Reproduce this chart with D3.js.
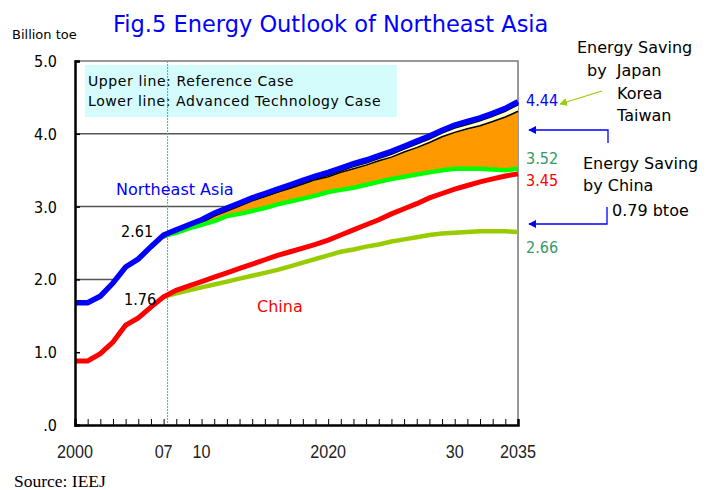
<!DOCTYPE html>
<meta charset="utf-8">
<script src="https://d3js.org/d3.v7.min.js"></script>
<style>
body { margin: 0; background: #fff; }
text { font-family: "DejaVu Sans Condensed", "DejaVu Sans", sans-serif; font-stretch: condensed; }
text.wide { font-family: "DejaVu Sans", sans-serif; font-stretch: normal; }
.xlab { font-family: "Liberation Sans", Arial, sans-serif; font-stretch: normal; }
.src { font-family: "Liberation Serif", "Times New Roman", serif; font-stretch: normal; }
</style>
<body>
<script>

// years
var histYears = [2000, 2001, 2002, 2003, 2004, 2005, 2006, 2007];
var projYears = [2007, 2008, 2009, 2010, 2011, 2012, 2013, 2014, 2015, 2016,
                 2017, 2018, 2019, 2020, 2021, 2022, 2023, 2024, 2025, 2026,
                 2027, 2028, 2029, 2030, 2031, 2032, 2033, 2034, 2035];

// Northeast Asia (billion toe)
var neaHist = [1.68, 1.68, 1.77, 1.95, 2.17, 2.28, 2.45, 2.61];
var neaRef  = [2.61, 2.68, 2.75, 2.82, 2.91, 2.98, 3.05, 3.12, 3.18, 3.24,
               3.30, 3.36, 3.42, 3.47, 3.53, 3.59, 3.64, 3.70, 3.76, 3.83,
               3.90, 3.97, 4.05, 4.12, 4.17, 4.22, 4.28, 4.35, 4.44];
var neaAdv  = [2.60, 2.64, 2.70, 2.75, 2.80, 2.87, 2.90, 2.94, 2.98, 3.03,
               3.07, 3.11, 3.15, 3.20, 3.23, 3.26, 3.30, 3.34, 3.38, 3.41,
               3.44, 3.47, 3.50, 3.52, 3.52, 3.52, 3.51, 3.50, 3.52];
// saving by Japan, Korea, Taiwan (gap under the reference line)
var jktSaving = [0.00, 0.01, 0.01, 0.02, 0.02, 0.03, 0.03, 0.03, 0.04, 0.04,
                 0.05, 0.05, 0.05, 0.06, 0.06, 0.07, 0.07, 0.07, 0.08, 0.08,
                 0.09, 0.09, 0.09, 0.10, 0.10, 0.11, 0.11, 0.12, 0.13];

// China
var chinaHist = [0.88, 0.88, 0.98, 1.14, 1.37, 1.47, 1.62, 1.76];
var chinaRef  = [1.76, 1.85, 1.91, 1.97, 2.03, 2.09, 2.15, 2.21, 2.27, 2.33,
                 2.38, 2.43, 2.48, 2.54, 2.61, 2.68, 2.75, 2.82, 2.90, 2.97,
                 3.04, 3.12, 3.18, 3.24, 3.29, 3.34, 3.38, 3.42, 3.45];
var chinaAdv  = [1.76, 1.81, 1.85, 1.89, 1.93, 1.97, 2.01, 2.05, 2.09, 2.13,
                 2.18, 2.23, 2.28, 2.33, 2.38, 2.41, 2.45, 2.48, 2.52, 2.55,
                 2.58, 2.61, 2.63, 2.64, 2.65, 2.66, 2.66, 2.66, 2.65];

var yTicks = [0, 1, 2, 3, 4, 5];
var yTickLabels = [".0", "1.0", "2.0", "3.0", "4.0", "5.0"];
var xTickYears = [2000, 2007, 2010, 2020, 2030, 2035];
var xTickLabels = ["2000", "07", "10", "2020", "30", "2035"];
var baseYear = 2007;

var width = 711, height = 490;

var x = d3.scaleLinear().domain([2000, 2035]).range([75, 518]);
var y = d3.scaleLinear().domain([0, 5]).range([425, 61]);

var svg = d3.select("body").append("svg")
    .attr("width", width)
    .attr("height", height);

function pts(years, vals) {
  return years.map(function(yr, i) { return {year: yr, v: vals[i]}; });
}

var nea = pts(histYears, neaHist).concat(pts(projYears, neaRef).slice(1));
var china = pts(histYears, chinaHist).concat(pts(projYears, chinaRef).slice(1));
var band = projYears.map(function(yr, i) {
  return {year: yr, ref: neaRef[i], mid: neaRef[i] - jktSaving[i], adv: neaAdv[i]};
});

var line = d3.line().x(function(d) { return x(d.year); }).y(function(d) { return y(d.v); });

// grid lines
svg.append("g").selectAll("line")
    .data([2, 3, 4])
    .enter().append("line")
    .attr("x1", x(2000)).attr("x2", x(2035))
    .attr("y1", function(d) { return y(d); })
    .attr("y2", function(d) { return y(d); })
    .attr("stroke", "#555")
    .attr("stroke-width", 1.5);

// white fill under Northeast Asia line hides the grid
svg.append("path")
    .datum(nea)
    .attr("fill", "#fff")
    .attr("d", d3.area().x(function(d) { return x(d.year); }).y0(y(0)).y1(function(d) { return y(d.v); }));

// frame top + right
svg.append("path")
    .attr("d", "M" + x(2000) + "," + y(5) + "H" + x(2035) + "V" + y(0))
    .attr("fill", "none")
    .attr("stroke", "#777")
    .attr("stroke-width", 1.5);

// legend box
svg.append("rect")
    .attr("x", 85).attr("y", 65)
    .attr("width", 312).attr("height", 52)
    .attr("fill", "#d4fcfc");
svg.append("text").attr("class", "wide").attr("x", 88).attr("y", 86)
    .style("font-size", "14px").style("letter-spacing", "0.6px")
    .text("Upper line: Reference Case");
svg.append("text").attr("class", "wide").attr("x", 88).attr("y", 106)
    .style("font-size", "14px").style("letter-spacing", "0.6px")
    .text("Lower line: Advanced Technology Case");

// 2007 divider
svg.append("line")
    .attr("x1", x(baseYear) + 4).attr("x2", x(baseYear) + 4)
    .attr("y1", y(5)).attr("y2", y(0))
    .attr("stroke", "#00bfff")
    .attr("stroke-width", 1)
    .attr("stroke-dasharray", "2,1");

// saving areas
svg.append("path").datum(band)
    .attr("fill", "#ff9900")
    .attr("d", d3.area().x(function(d) { return x(d.year); })
        .y0(function(d) { return y(d.adv); }).y1(function(d) { return y(d.mid); }));
svg.append("path").datum(band)
    .attr("fill", "#ffffcc")
    .attr("d", d3.area().x(function(d) { return x(d.year); })
        .y0(function(d) { return y(d.mid); }).y1(function(d) { return y(d.ref); }));
svg.append("path").datum(band)
    .attr("fill", "none").attr("stroke", "#000").attr("stroke-width", 1.5)
    .attr("d", d3.line().x(function(d) { return x(d.year); }).y(function(d) { return y(d.mid); }));
svg.append("path").datum(pts(projYears, neaRef))
    .attr("fill", "none").attr("stroke", "#000").attr("stroke-width", 1.5)
    .attr("transform", "translate(0,3)")
    .attr("d", line);

// lines
svg.append("path").datum(pts(projYears, chinaAdv))
    .attr("fill", "none").attr("stroke", "#99cc00").attr("stroke-width", 4.5)
    .attr("d", line);
svg.append("path").datum(china)
    .attr("fill", "none").attr("stroke", "#ff0000").attr("stroke-width", 5)
    .attr("d", line);
svg.append("path").datum(pts(projYears, neaAdv))
    .attr("fill", "none").attr("stroke", "#00ff00").attr("stroke-width", 4.5)
    .attr("d", line);
svg.append("path").datum(nea)
    .attr("fill", "none").attr("stroke", "#0000ff").attr("stroke-width", 5.5)
    .attr("d", line);

// axes
var xAxis = d3.axisBottom(x)
    .tickValues(d3.range(2001, 2036))
    .tickSize(-6)
    .tickFormat("");
var gx = svg.append("g").attr("transform", "translate(0," + y(0) + ")").call(xAxis);
gx.select(".domain").attr("stroke", "#000").attr("stroke-width", 2.5);
gx.selectAll(".tick line").attr("stroke", "#000").attr("stroke-width", 1);

var yAxis = d3.axisLeft(y).tickValues(yTicks).tickSize(-5).tickFormat("");
var gy = svg.append("g").attr("transform", "translate(" + x(2000) + ",0)").call(yAxis);
gy.select(".domain").attr("stroke", "#000").attr("stroke-width", 2.5);
gy.selectAll(".tick line").attr("stroke", "#000").attr("stroke-width", 1.5);

svg.append("g").selectAll("text")
    .data(yTicks)
    .enter().append("text")
    .attr("x", 57)
    .attr("y", function(d) { return y(d) + 6; })
    .attr("text-anchor", "end")
    .style("font-size", "16px")
    .text(function(d, i) { return yTickLabels[i]; });

svg.append("g").selectAll("text")
    .data(xTickYears)
    .enter().append("text")
    .attr("class", "xlab")
    .attr("transform", function(d) { return "translate(" + x(d) + ",458) scale(0.85,1)"; })
    .attr("text-anchor", "middle")
    .attr("fill", "#222")
    .style("font-size", "19px")
    .text(function(d, i) { return xTickLabels[i]; });

// titles
svg.append("text").attr("class", "wide").attr("x", 113).attr("y", 32)
    .attr("fill", "#0000ff").style("font-size", "22.5px")
    .text("Fig.5 Energy Outlook of Northeast Asia");
svg.append("text").attr("class", "wide").attr("x", 12).attr("y", 39)
    .style("font-size", "13px").text("Billion toe");
svg.append("text").attr("class", "src").attr("x", 14).attr("y", 487)
    .style("font-size", "17.5px").text("Source: IEEJ");

// series labels
svg.append("text").attr("class", "wide").attr("x", 116).attr("y", 195)
    .attr("fill", "#0000ff").style("font-size", "16px").text("Northeast Asia");
svg.append("text").attr("class", "wide").attr("x", 257).attr("y", 312)
    .attr("fill", "#ff0000").style("font-size", "16px").text("China");
svg.append("text").attr("x", 121).attr("y", y(2.61) + 2)
    .style("font-size", "16px").text("2.61");
svg.append("text").attr("x", 124).attr("y", y(1.76) + 8)
    .style("font-size", "16px").text("1.76");

var endLabels = [
  {v: 4.44, t: "4.44", c: "#0000ff", dy: 4},
  {v: 3.52, t: "3.52", c: "#339966", dy: -5},
  {v: 3.45, t: "3.45", c: "#ff0000", dy: 12},
  {v: 2.66, t: "2.66", c: "#339966", dy: 22}
];
svg.append("g").selectAll("text")
    .data(endLabels)
    .enter().append("text")
    .attr("x", 526)
    .attr("y", function(d) { return y(d.v) + d.dy; })
    .attr("fill", function(d) { return d.c; })
    .style("font-size", "16px")
    .text(function(d) { return d.t; });

// annotations on the right
var defs = svg.append("defs");
function marker(id, color) {
  defs.append("marker")
      .attr("id", id)
      .attr("viewBox", "0 0 10 10")
      .attr("refX", 9).attr("refY", 5)
      .attr("markerWidth", 6).attr("markerHeight", 6)
      .attr("orient", "auto")
      .append("path").attr("d", "M0,0L10,5L0,10z").attr("fill", color);
}
marker("arrBlue", "#0000ff");
marker("arrGreen", "#99cc00");

svg.append("line")
    .attr("x1", 602).attr("y1", 91).attr("x2", 560).attr("y2", 104)
    .attr("stroke", "#99cc00").attr("stroke-width", 1.3)
    .attr("marker-end", "url(#arrGreen)");
svg.append("path")
    .attr("d", "M608,143V130H529")
    .attr("fill", "none").attr("stroke", "#0000ff").attr("stroke-width", 1.3)
    .attr("marker-end", "url(#arrBlue)");
svg.append("path")
    .attr("d", "M607,207V224H529")
    .attr("fill", "none").attr("stroke", "#0000ff").attr("stroke-width", 1.3)
    .attr("marker-end", "url(#arrBlue)");

var note1 = [["Energy Saving", 577, 53], ["by  Japan", 587, 76], ["Korea", 617, 99], ["Taiwan", 617, 121]];
var note2 = [["Energy Saving", 583, 169], ["by China", 583, 191], ["0.79 btoe", 612, 216]];
svg.append("g").selectAll("text")
    .data(note1.concat(note2))
    .enter().append("text")
    .attr("class", "wide")
    .attr("x", function(d) { return d[1]; })
    .attr("y", function(d) { return d[2]; })
    .style("font-size", "16px")
    .style("white-space", "pre")
    .text(function(d) { return d[0]; });

</script>
</body>
